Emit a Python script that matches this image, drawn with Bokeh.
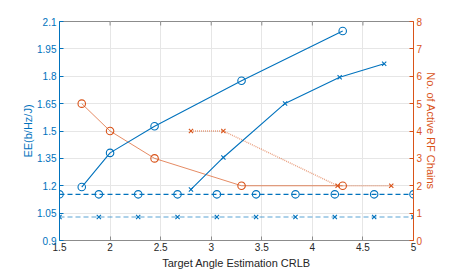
from bokeh.plotting import figure
from bokeh.models import Range1d, LinearAxis, FixedTicker
from bokeh.embed import file_html
from bokeh.resources import INLINE

# ---- data ----
x_prop_circ = [1.72, 2.0, 2.44, 3.3, 4.3]
ee_prop_circ = [1.193, 1.38, 1.526, 1.775, 2.048]
rf_prop_circ = [5, 4, 3, 2, 2]

x_prop_x = [2.8, 3.12, 3.73, 4.27, 4.71]
ee_prop_x = [1.18, 1.355, 1.651, 1.795, 1.868]

x_rf_x = [2.8, 3.12, 4.25, 4.78]
rf_x = [4, 4, 2, 2]

x_base = [1.5, 1.889, 2.278, 2.667, 3.056, 3.444, 3.833, 4.222, 4.611, 5.0]
ee_base_circ = [1.153] * 10
ee_base_x = [1.029] * 10

x_ticks = [1.5, 2, 2.5, 3, 3.5, 4, 4.5, 5]
x_tick_labels = ["1.5", "2", "2.5", "3", "3.5", "4", "4.5", "5"]
left_ticks = [0.9, 1.05, 1.2, 1.35, 1.5, 1.65, 1.8, 1.95, 2.1]
left_tick_labels = ["0.9", "1.05", "1.2", "1.35", "1.5", "1.65", "1.8", "1.95", "2.1"]
right_ticks = [0, 1, 2, 3, 4, 5, 6, 7, 8]

BLUE = "#0072BD"
ORANGE = "#D95319"
FONT = "Liberation Sans"
GRID = "#e6e6e6"
AXIS_GRAY = "#8c8c8c"

p = figure(width=457, height=271, output_backend="svg", toolbar_location=None,
           x_range=Range1d(1.5, 5), y_range=Range1d(0.9, 2.1),
           min_border_left=59, min_border_right=44, min_border_top=21,
           min_border_bottom=30)
p.extra_y_ranges = {"rf": Range1d(0, 8)}
p.outline_line_color = AXIS_GRAY
p.outline_line_width = 1
p.background_fill_color = "white"
p.border_fill_color = "white"

def style_axis(ax, color, label_color):
    ax.axis_line_color = color
    ax.major_tick_line_color = color
    ax.major_tick_in = 4
    ax.major_tick_out = 0
    ax.minor_tick_line_color = None
    ax.major_label_text_color = label_color
    ax.major_label_text_font = FONT
    ax.major_label_text_font_size = "10px"
    ax.axis_label_text_font = FONT
    ax.axis_label_text_font_size = "11px"
    ax.axis_label_text_font_style = "normal"
    ax.axis_label_text_color = label_color

xa = p.xaxis[0]
xa.ticker = FixedTicker(ticks=x_ticks)
xa.major_label_overrides = dict(zip(x_ticks, x_tick_labels))
xa.axis_label = "Target Angle Estimation CRLB"
style_axis(xa, AXIS_GRAY, "#262626")
xa.major_label_standoff = 2
xa.axis_label_standoff = 3

ya = p.yaxis[0]
ya.ticker = FixedTicker(ticks=left_ticks)
ya.major_label_overrides = dict(zip(left_ticks, left_tick_labels))
ya.axis_label = "EE(b/Hz/J)"
style_axis(ya, BLUE, BLUE)
ya.major_label_standoff = 3
ya.axis_label_standoff = 0

ra = LinearAxis(y_range_name="rf", ticker=FixedTicker(ticks=right_ticks),
                axis_label="No. of Active RF Chains")
style_axis(ra, ORANGE, ORANGE)
ra.major_label_standoff = 3
ra.axis_label_standoff = 0
p.add_layout(ra, "right")

p.xgrid.ticker = FixedTicker(ticks=x_ticks)
p.ygrid.ticker = FixedTicker(ticks=left_ticks)
p.xgrid.grid_line_color = GRID
p.ygrid.grid_line_color = GRID

# top-border tick marks (box on)
top_tick_len = 0.022
p.segment(x0=x_ticks, y0=[2.1] * len(x_ticks), x1=x_ticks,
          y1=[2.1 - top_tick_len] * len(x_ticks), line_color=AXIS_GRAY, line_width=1)

# orange (right axis)
p.line(x_prop_circ, rf_prop_circ, y_range_name="rf", line_color=ORANGE, line_width=0.8, line_alpha=0.85)
p.scatter(x_prop_circ, rf_prop_circ, y_range_name="rf", marker="circle", size=7.5,
          fill_color=None, line_color=ORANGE, line_width=1.1)
p.line(x_rf_x, rf_x, y_range_name="rf", line_color=ORANGE, line_width=1.4, line_alpha=0.55, line_dash="1 1")
p.scatter(x_rf_x, rf_x, y_range_name="rf", marker="x", size=6, line_color=ORANGE, line_width=1.1)

# blue (left axis)
p.line(x_base, ee_base_x, line_color=BLUE, line_width=1.1, line_alpha=0.65, line_dash="5 3")
p.scatter(x_base, ee_base_x, marker="x", size=6, line_color=BLUE, line_width=1.1)
p.line(x_base, ee_base_circ, line_color=BLUE, line_width=1.1, line_dash="5 3")
p.scatter(x_base, ee_base_circ, marker="circle", size=7.5, fill_color=None, line_color=BLUE, line_width=1.1)

p.line(x_prop_x, ee_prop_x, line_color=BLUE, line_width=1.1)
p.scatter(x_prop_x, ee_prop_x, marker="x", size=6, line_color=BLUE, line_width=1.1)
p.line(x_prop_circ, ee_prop_circ, line_color=BLUE, line_width=1.1)
p.scatter(x_prop_circ, ee_prop_circ, marker="circle", size=7.5, fill_color=None, line_color=BLUE, line_width=1.1)

open("out.html", "w").write(file_html(p, INLINE))
